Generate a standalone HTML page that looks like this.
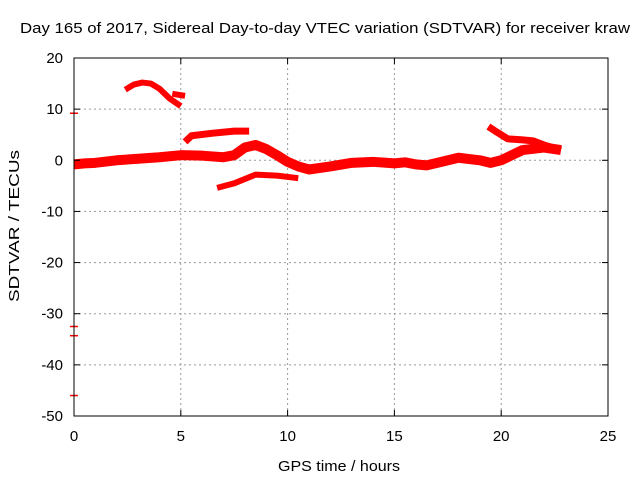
<!DOCTYPE html>
<html><head><meta charset="utf-8"><style>
body{margin:0;background:#fff}
text{font-family:"Liberation Sans",sans-serif;font-size:14px;fill:#000}
</style></head><body>
<svg width="640" height="480">
<rect width="640" height="480" fill="#fff"/>
<text x="20" y="33" textLength="610" lengthAdjust="spacingAndGlyphs" style="font-size:15px">Day 165 of 2017, Sidereal Day-to-day VTEC variation (SDTVAR) for receiver kraw</text>
<g id="grid"></g>
<g id="series"></g>
<rect x="74" y="58" width="534" height="358" fill="none" stroke="#000"/>
<g id="axes"></g>
<text x="278" y="471" textLength="122" lengthAdjust="spacingAndGlyphs" style="font-size:15px">GPS time / hours</text>
<text transform="translate(19,302) rotate(-90)" textLength="152" lengthAdjust="spacingAndGlyphs" style="font-size:15px">SDTVAR / TECUs</text>
</svg>
<script>
const xTicks=[0,5,10,15,20,25];
const yTicks=[20,10,0,-10,-20,-30,-40,-50];
const mainH=[0,0.5,1,2,3,4,5,6,7,7.5,8,8.5,9,9.5,10,10.5,11,12,13,14,15,15.5,16,16.5,17,18,19,19.5,20,20.5,21,22,22.8];
const mainV=[-0.8,-0.6,-0.5,0,0.3,0.6,1,0.9,0.6,1,2.5,3,2.2,1,-0.3,-1.2,-1.8,-1.2,-0.5,-0.3,-0.6,-0.4,-0.8,-1,-0.5,0.5,0,-0.5,0,1,2,2.5,2];
const upH=[19.4,19.8,20.3,21,21.5,22,22.8];
const upV=[6.6,5.5,4.2,4,3.8,3,2];
const humpH=[2.4,2.8,3.2,3.6,4,4.5,5];
const humpV=[13.8,14.8,15.2,15,14,12,10.6];
const bitH=[4.6,5.2];
const bitV=[13,12.6];
const midH=[5.2,5.5,6.5,7.5,8.2];
const midV=[3.6,4.8,5.3,5.7,5.7];
const lowH=[6.7,7.5,8.5,9.5,10.5];
const lowV=[-5.4,-4.5,-2.8,-3,-3.5];
const strayV=[9.2,-32.5,-34.3,-46];
const X=h=>74+h*534/25, Y=v=>58+(20-v)*358/70;
const NS="http://www.w3.org/2000/svg";
function mk(p,t,a){const e=document.createElementNS(NS,t);for(const k in a)e.setAttribute(k,a[k]);p.appendChild(e);return e;}
const g=document.getElementById('grid'),ax=document.getElementById('axes'),s=document.getElementById('series');
xTicks.forEach(t=>{
 if(t>0&&t<25){const l=mk(g,'line',{x1:X(t),x2:X(t),y1:58,y2:416,stroke:'#999','stroke-dasharray':'2,3'});
 
 }
 mk(ax,'line',{x1:X(t),x2:X(t),y1:416,y2:410,stroke:'#000'});mk(ax,'line',{x1:X(t),x2:X(t),y1:58,y2:64,stroke:'#000'});
 const tx=mk(ax,'text',{x:X(t),y:441,'text-anchor':'middle',style:'font-size:15px'});tx.textContent=t;
 
 
});
yTicks.forEach(t=>{
 if(t<20&&t>-50){const l=mk(g,'line',{x1:74,x2:608,y1:Y(t),y2:Y(t),stroke:'#999','stroke-dasharray':'2,3'});
 
 }
 mk(ax,'line',{x1:74,x2:80,y1:Y(t),y2:Y(t),stroke:'#000'});mk(ax,'line',{x1:608,x2:602,y1:Y(t),y2:Y(t),stroke:'#000'});
 const tx=mk(ax,'text',{x:63,y:Y(t)+5,'text-anchor':'end',style:'font-size:15px'});tx.textContent=t;
 
 
});
function seg(H,V,w,name){const p=mk(s,'polyline',{points:H.map((h,i)=>X(h)+','+Y(V[i])).join(' '),fill:'none',stroke:'#f00','stroke-width':w,'stroke-linejoin':'round'});
 
 }
seg(mainH,mainV,10,'series-main');
seg(upH,upV,7,'series-upper');
seg(humpH,humpV,6,'series-hump');
seg(bitH,bitV,6,'series-fragment');
seg(midH,midV,7,'series-mid');
seg(lowH,lowV,6,'series-low');
strayV.forEach(v=>{const l=mk(s,'line',{x1:70,x2:78,y1:Y(v),y2:Y(v),stroke:'#f00','stroke-width':1.5});
 
 });
</script>
</body></html>
